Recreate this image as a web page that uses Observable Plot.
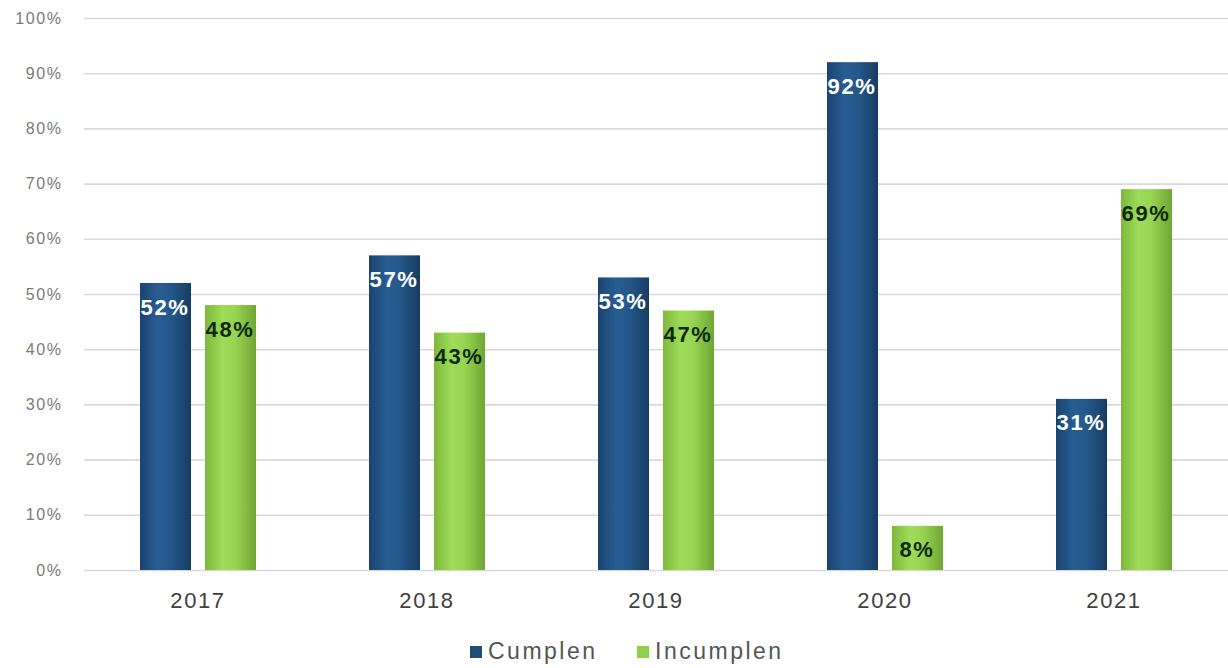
<!DOCTYPE html>
<html>
<head>
<meta charset="utf-8">
<script src="https://cdn.jsdelivr.net/npm/d3@7"></script>
<script src="https://cdn.jsdelivr.net/npm/@observablehq/plot@0.6"></script>
<style>
  body { margin: 0; background: #fff; font-family: "Liberation Sans", Arial, sans-serif; }
  #legend { position: relative; height: 43px; font-size: 23px; color: #555; letter-spacing: 2.5px; }
  #legend span.item { position: absolute; top: 15px; display: flex; align-items: center; gap: 6px; line-height: 23px; }
  #legend span.sw { width: 12px; height: 12px; display: inline-block; }
</style>
</head>
<body>
<div id="chart"></div>
<div id="legend">
  <span class="item" style="left:470px"><span class="sw" style="background:#1f4e79"></span>Cumplen</span>
  <span class="item" style="left:637px"><span class="sw" style="background:#8fcf4a"></span>Incumplen</span>
</div>
<script>
const years = ["2017", "2018", "2019", "2020", "2021"];
const series = ["Cumplen", "Incumplen"];
const cumplen = [52, 57, 53, 92, 31];
const incumplen = [48, 43, 47, 8, 69];
const yTicks = [0, 10, 20, 30, 40, 50, 60, 70, 80, 90, 100];

const data = [];
years.forEach((y, i) => {
  data.push({year: y, series: "Cumplen", value: cumplen[i]});
  data.push({year: y, series: "Incumplen", value: incumplen[i]});
});

const chart = Plot.plot({
  width: 1228,
  height: 625,
  marginLeft: 85,
  marginRight: 0,
  marginTop: 18,
  marginBottom: 55,
  style: {fontFamily: "Liberation Sans, Arial, sans-serif", background: "#fff"},
  fx: {domain: years, padding: 0, label: null, range: [83, 1229]},
  x: {domain: series, paddingInner: 0.215, paddingOuter: 0.868, axis: null},
  y: {domain: [0, 100], axis: null},
  marks: [
    Plot.gridY(yTicks, {stroke: "#d9d9d9", strokeOpacity: 1, strokeWidth: 1.6}),
    Plot.barY(data.filter(d => d.series === "Cumplen"), {fx: "year", x: "series", y: "value", fill: "url(#gBlue)"}),
    Plot.barY(data.filter(d => d.series === "Incumplen"), {fx: "year", x: "series", y: "value", fill: "url(#gGreen)"}),
    Plot.text(data, {fx: "year", x: "series", y: "value", text: d => d.value + "%", dy: 24, dx: -1,
      fill: d => d.series === "Cumplen" ? "#ffffff" : "#0d2a0d", fontSize: 22, fontWeight: "bold"}),
    Plot.axisY(yTicks, {tickSize: 0, tickPadding: 22, tickFormat: d => d + "%", fontSize: 16, fill: "#7a7a7a", label: null}),
    Plot.axisFx({anchor: "bottom", tickSize: 0, tickPadding: 22, fontSize: 22, fill: "#404040", label: null, dx: -1})
  ]
});

const ns = "http://www.w3.org/2000/svg";
const defs = document.createElementNS(ns, "defs");
function grad(id, stops) {
  const g = document.createElementNS(ns, "linearGradient");
  g.setAttribute("id", id);
  g.setAttribute("x1", "0"); g.setAttribute("x2", "1");
  g.setAttribute("y1", "0"); g.setAttribute("y2", "0");
  stops.forEach(([o, c]) => {
    const s = document.createElementNS(ns, "stop");
    s.setAttribute("offset", o); s.setAttribute("stop-color", c);
    g.appendChild(s);
  });
  defs.appendChild(g);
}
grad("gBlue", [["0", "#1a4470"], ["0.35", "#285d93"], ["0.6", "#24588b"], ["1", "#173c63"]]);
grad("gGreen", [["0", "#7db83c"], ["0.35", "#9fdc58"], ["0.6", "#98d452"], ["1", "#6fa632"]]);
const svg = chart.tagName.toLowerCase() === "svg" ? chart : chart.querySelector("svg");
svg.insertBefore(defs, svg.firstChild);
// widen the text slightly, as in the stretched reference
svg.querySelectorAll("text").forEach(t => {
  const fs = parseFloat(getComputedStyle(t).fontSize) || 15;
  t.style.letterSpacing = fs >= 20 ? "2px" : "1.6px";
});
document.getElementById("chart").appendChild(chart);
</script>
</body>
</html>
